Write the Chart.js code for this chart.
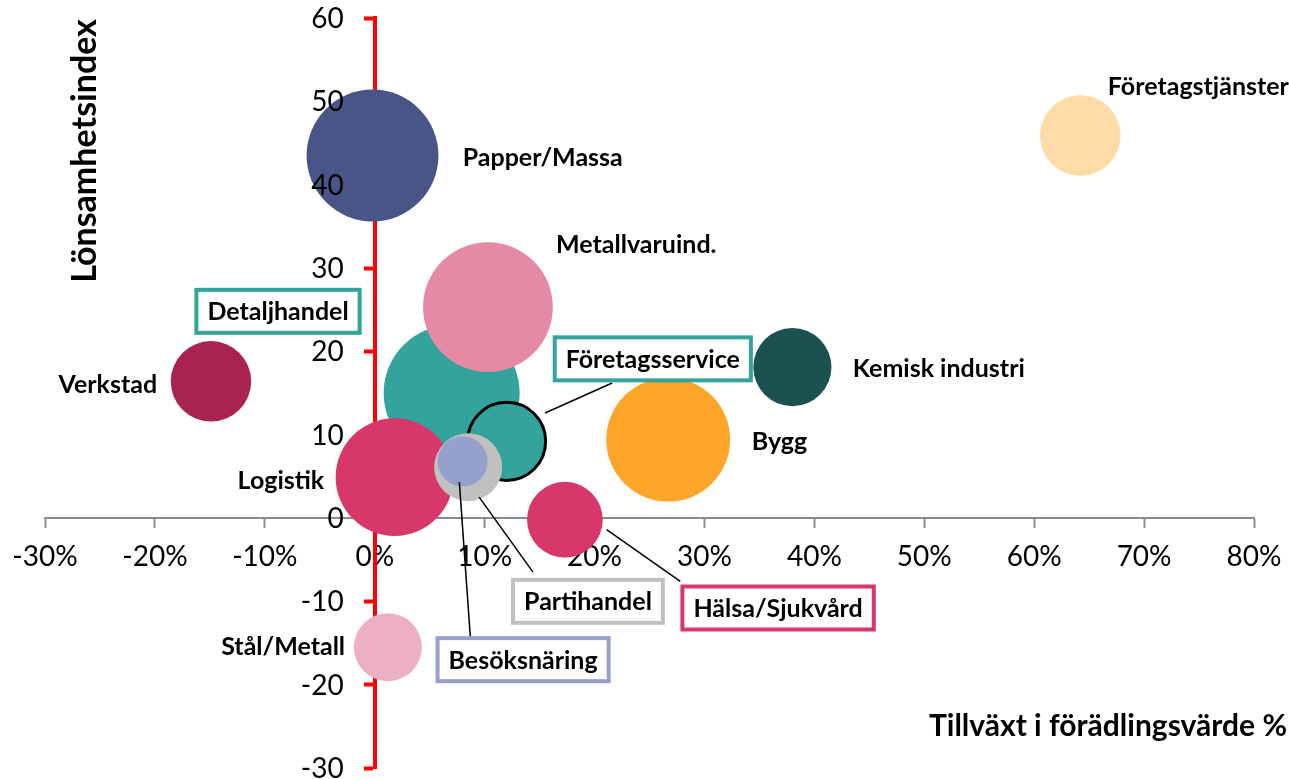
<!DOCTYPE html>
<html>
<head>
<meta charset="utf-8">
<script src="https://cdn.jsdelivr.net/npm/chart.js@4.4.1/dist/chart.umd.min.js"></script>
<style>
  html, body { margin: 0; padding: 0; background: #ffffff; }
  #chart { display: block; }
</style>
</head>
<body>
<canvas id="chart" width="1289" height="779"></canvas>
<script>
// ========================================
// DATA (largest bubble first, so the small ones end up on top)
// ========================================
const sectors = ['Detaljhandel', 'Papper/Massa', 'Metallvaruind.', 'Bygg', 'Logistik', 'Verkstad',
                 'Företagstjänster', 'Företagsservice', 'Kemisk industri', 'Hälsa/Sjukvård',
                 'Partihandel', 'Stål/Metall', 'Besöksnäring'];
const growth        = [7.0, -0.2, 10.3, 26.7, 1.8, -14.9, 64.2, 12.0, 38.0, 17.3, 8.5, 1.2, 8.0];   // tillväxt i förädlingsvärde, %
const profitability = [15.0, 43.5, 25.3, 9.4, 4.9, 16.4, 45.9, 9.2, 18.1, -0.2, 6.1, -15.5, 6.8]; // lönsamhetsindex
const bubbleSize    = [100, 94, 91, 83, 75, 35, 35, 33, 33, 31, 25, 25, 13.5];

const xTickValues = [-30, -20, -10, 0, 10, 20, 30, 40, 50, 60, 70, 80];
const yTickValues = [-30, -20, -10, 0, 10, 20, 30, 40, 50, 60];

const xTitle = 'Tillväxt i förädlingsvärde %';
const yTitle = 'Lönsamhetsindex';

// ========================================
// STYLE
// ========================================
const FONT = 'Lato, "Noto Sans", sans-serif';
const MAX_RADIUS = 68;
const TICK_FONT_SIZE = 28;

const SECTOR_COLORS = {
    'Detaljhandel': '#33a39b',
    'Papper/Massa': '#485586',
    'Metallvaruind.': '#e58aa4',
    'Bygg': '#fda629',
    'Logistik': '#d83869',
    'Verkstad': '#a8234f',
    'Företagstjänster': '#ffdba8',
    'Företagsservice': '#33a39b',
    'Kemisk industri': '#1b5250',
    'Hälsa/Sjukvård': '#d83869',
    'Partihandel': '#c0c0c0',
    'Stål/Metall': '#edb0c3',
    'Besöksnäring': '#95a1cc'
};

// label placement in chart units (x = %, y = index)
const LABEL_SPOTS = {
    'Papper/Massa':     { x: 8.0,   y: 43.3,  align: 'left' },
    'Företagstjänster': { x: 66.7,  y: 51.8,  align: 'left' },
    'Metallvaruind.':   { x: 16.5,  y: 32.9,  align: 'left' },
    'Kemisk industri':  { x: 43.5,  y: 18.0,  align: 'left' },
    'Bygg':             { x: 34.3,  y: 9.2,   align: 'left' },
    'Verkstad':         { x: -19.8, y: 16.1,  align: 'right' },
    'Logistik':         { x: -4.6,  y: 4.6,   align: 'right' },
    'Stål/Metall':      { x: -2.7,  y: -15.3, align: 'right' },
    'Detaljhandel':     { x: -8.8,  y: 24.8,  align: 'center', box: true },
    'Företagsservice':  { x: 25.3,  y: 19.1,  align: 'center', box: true, leader: [[15.5, 12.6], [21.6, 16.2]] },
    'Partihandel':      { x: 19.4,  y: -10.0, align: 'center', box: true, leader: [[9.5, 2.5], [14.4, -6.5]] },
    'Hälsa/Sjukvård':   { x: 36.7,  y: -10.8, align: 'center', box: true, leader: [[21.1, -1.4], [27.8, -7.6]] },
    'Besöksnäring':     { x: 13.5,  y: -17.0, align: 'center', box: true, leader: [[7.7, 4.3], [8.7, -14.3]] }
};

// ========================================
// PLUGINS
// ========================================
const sectorLabelPlugin = {
    id: 'sectorLabels',
    afterDatasetsDraw: function(chart) {
        const ctx = chart.ctx;
        const xs = chart.scales.x;
        const ys = chart.scales.y;

        ctx.save();
        ctx.font = 'bold 25px ' + FONT;
        ctx.textBaseline = 'middle';

        sectors.forEach((name) => {
            const spot = LABEL_SPOTS[name];
            if (!spot) return;
            const px = xs.getPixelForValue(spot.x);
            const py = ys.getPixelForValue(spot.y);

            if (spot.leader) {
                ctx.strokeStyle = '#000000';
                ctx.lineWidth = 1.5;
                ctx.beginPath();
                ctx.moveTo(xs.getPixelForValue(spot.leader[0][0]), ys.getPixelForValue(spot.leader[0][1]));
                ctx.lineTo(xs.getPixelForValue(spot.leader[1][0]), ys.getPixelForValue(spot.leader[1][1]));
                ctx.stroke();
            }

            if (spot.box) {
                const w = ctx.measureText(name).width + 22;
                const h = 43;
                ctx.fillStyle = '#ffffff';
                ctx.fillRect(px - w / 2, py - h / 2, w, h);
                ctx.strokeStyle = SECTOR_COLORS[name];
                ctx.lineWidth = 4;
                ctx.strokeRect(px - w / 2, py - h / 2, w, h);
            }

            ctx.fillStyle = '#000000';
            ctx.textAlign = spot.align;
            ctx.fillText(name, px, py + 1);
        });
        ctx.restore();
    }
};

// y labels of an axis that sits at x = 0: Chart.js puts them flush on the line,
// so they are drawn here with the usual gap
const yTickLabelPlugin = {
    id: 'yTickLabels',
    afterDraw: function(chart) {
        const ctx = chart.ctx;
        const ys = chart.scales.y;
        const axisX = chart.scales.x.getPixelForValue(0);
        ctx.save();
        ctx.font = TICK_FONT_SIZE + 'px ' + FONT;
        ctx.fillStyle = '#000000';
        ctx.textAlign = 'right';
        ctx.textBaseline = 'middle';
        ys.ticks.forEach((t) => {
            ctx.fillText(String(t.value), axisX - 31, ys.getPixelForValue(t.value) + 1);
        });
        ctx.restore();
    }
};

const axisTitlePlugin = {
    id: 'axisTitles',
    afterDraw: function(chart) {
        const ctx = chart.ctx;
        ctx.save();
        ctx.fillStyle = '#000000';
        ctx.textBaseline = 'middle';

        ctx.font = 'bold 34px ' + FONT;
        ctx.translate(85, 151);
        ctx.rotate(-Math.PI / 2);
        ctx.textAlign = 'center';
        ctx.fillText(yTitle, 0, 0);
        ctx.setTransform(1, 0, 0, 1, 0, 0);

        ctx.font = 'bold 30px ' + FONT;
        ctx.textAlign = 'right';
        ctx.fillText(xTitle, 1287, 726);
        ctx.restore();
    }
};

// ========================================
// CHART
// ========================================
function noScalePadding(scale) {
    scale.paddingLeft = 0;
    scale.paddingRight = 0;
    scale.paddingTop = 0;
    scale.paddingBottom = 0;
}

function createBubbleData() {
    return sectors.map((name, i) => ({
        x: growth[i],
        y: profitability[i],
        r: MAX_RADIUS * Math.sqrt(bubbleSize[i] / 100)
    }));
}

const ctx = document.getElementById('chart').getContext('2d');
const chart = new Chart(ctx, {
    type: 'bubble',
    data: {
        datasets: [{
            label: 'Branscher',
            data: createBubbleData(),
            backgroundColor: sectors.map(s => SECTOR_COLORS[s]),
            borderColor: sectors.map(s => s === 'Företagsservice' ? '#000000' : SECTOR_COLORS[s]),
            borderWidth: sectors.map(s => s === 'Företagsservice' ? 3 : 0),
            hoverRadius: 0,
            clip: false
        }]
    },
    options: {
        responsive: false,
        devicePixelRatio: 1,
        animation: false,
        events: [],
        layout: {
            autoPadding: false,
            padding: { left: 45, right: 35, top: 18, bottom: 11 }
        },
        scales: {
            x: {
                type: 'linear',
                position: { y: 0 },
                min: xTickValues[0],
                max: xTickValues[xTickValues.length - 1],
                afterBuildTicks: (scale) => { scale.ticks = xTickValues.map(v => ({ value: v })); },
                afterFit: noScalePadding,
                ticks: {
                    color: '#000000',
                    font: { family: FONT, size: TICK_FONT_SIZE },
                    padding: 13,
                    maxRotation: 0,
                    autoSkip: false,
                    callback: (v) => v + '%'
                },
                grid: {
                    drawOnChartArea: false,
                    drawTicks: true,
                    tickLength: 9,
                    tickColor: '#8c8c8c',
                    tickWidth: 2
                },
                border: { color: '#8c8c8c', width: 2 }
            },
            y: {
                type: 'linear',
                position: { x: 0 },
                min: yTickValues[0],
                max: yTickValues[yTickValues.length - 1],
                afterBuildTicks: (scale) => { scale.ticks = yTickValues.map(v => ({ value: v })); },
                afterFit: noScalePadding,
                ticks: { display: false },
                grid: {
                    drawOnChartArea: false,
                    drawTicks: true,
                    tickLength: 9,
                    tickColor: '#ff0000',
                    tickWidth: 4
                },
                border: { color: '#ff0000', width: 4 }
            }
        },
        plugins: {
            legend: { display: false },
            tooltip: { enabled: false }
        }
    },
    plugins: [sectorLabelPlugin, yTickLabelPlugin, axisTitlePlugin]
});
</script>
</body>
</html>
